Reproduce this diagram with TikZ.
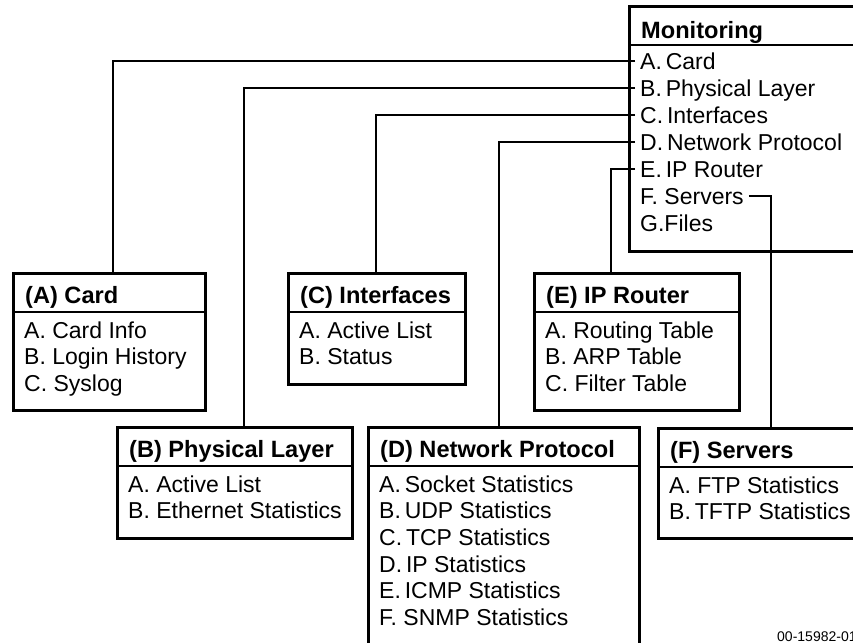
\documentclass[tikz,border=0pt]{standalone}
\usepackage{fontspec}
\setmainfont{Liberation Sans}
\newcommand{\mkbox}[7]{%
  \node[frame, minimum width=#4pt, minimum height=#5pt, anchor=north west] (#1) at (#2,#3) {};
  \draw[hdr] ([yshift=-40pt]#1.north west) -- ([yshift=-40pt]#1.north east);
  \node[ttl] (#1-t) at ([xshift=8pt,yshift=-#7pt]#1.north west) {#6};
}
\newcommand{\mkitems}[4]{%
  \foreach \txt [count=\i] in {#4} {
    \node[itm] (#1-\i) at ([xshift=7pt,yshift={-#2pt-(\i-1)*#3pt}]#1.north west) {\txt};
  }
}
\tikzset{
  frame/.style={draw, line width=3pt, inner sep=0pt},
  hdr/.style={line width=2.4pt},
  ttl/.style={anchor=west, inner xsep=5pt, inner ysep=0pt, font=\fontsize{23.6}{26}\selectfont\bfseries, text height=16.9pt, text depth=0pt},
  itm/.style={anchor=west, inner xsep=5pt, inner ysep=0pt, font=\fontsize{23}{26}\selectfont, text height=16.5pt, text depth=0pt},
  conn/.style={line width=1.2pt},
}
\begin{document}
\begin{tikzpicture}[x=1pt,y=-1pt]
\useasboundingbox (0,0) rectangle (853,642);
\clip (0,0) rectangle (853,642);
% Monitoring
\mkbox{mon}{628}{5}{240}{245}{Monitoring}{25.5}
\mkitems{mon}{56}{27}{A.\,Card,B.\,Physical Layer,C.\,Interfaces,D.\,Network Protocol,E.\,IP Router,F. Servers,G.Files}
% lower boxes
\mkbox{card}{12}{272}{192}{137}{(A) Card}{23}
\mkitems{card}{58}{26.6}{A. Card Info,B. Login History,C. Syslog}
\mkbox{intf}{287}{272}{177}{111}{(C) Interfaces}{23}
\mkitems{intf}{58}{26.6}{A. Active List,B. Status}
\mkbox{iprt}{533}{272}{205}{137}{(E) IP Router}{23}
\mkitems{iprt}{58}{26.6}{A. Routing Table,B. ARP Table,C. Filter Table}
\mkbox{phys}{116}{426}{235}{111}{(B) Physical Layer}{23}
\mkitems{phys}{58}{26.6}{A. Active List,B. Ethernet Statistics}
\mkbox{netp}{367}{426}{271}{230}{(D) Network Protocol}{23}
\mkitems{netp}{58}{26.6}{A.\,Socket Statistics,B.\,UDP Statistics,C.\,TCP Statistics,D.\,IP Statistics,E.\,ICMP Statistics,F. SNMP Statistics}
\mkbox{serv}{657}{427}{220}{110}{(F) Servers}{23}
\mkitems{serv}{58}{26.6}{A. FTP Statistics,B.\,TFTP Statistics}
% connectors
\draw[conn] (mon-1.west) -| (113,0 |- card.north);
\draw[conn] (mon-2.west) -| (244,0 |- phys.north);
\draw[conn] (mon-3.west) -| (376,0 |- intf.north);
\draw[conn] (mon-4.west) -| (499,0 |- netp.north);
\draw[conn] (mon-5.west) -| (611,0 |- iprt.north);
\draw[conn] (mon-6.east) -| (771,0 |- serv.north);
% figure id
\node[anchor=base west, inner sep=0pt, font=\fontsize{14}{16}\selectfont] (figid) at (777,641) {00-15982-01};
\end{tikzpicture}
\end{document}
